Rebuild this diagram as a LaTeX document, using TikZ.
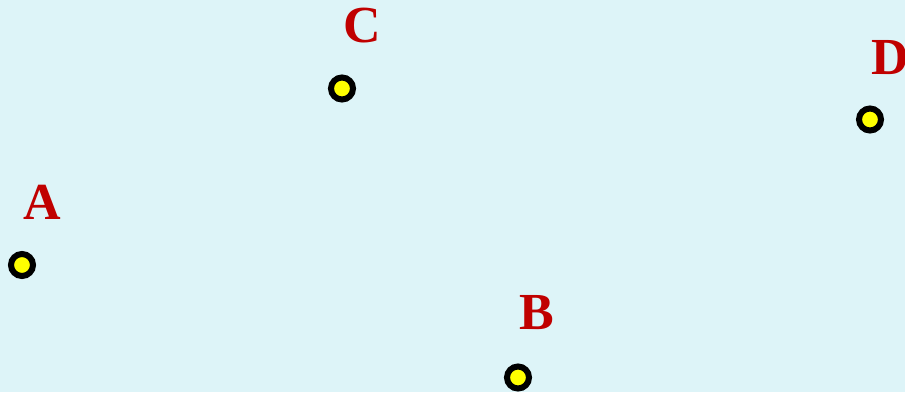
\documentclass[tikz,border=0pt]{standalone}
\usepackage{fontspec}
\setmainfont{Liberation Serif}
\definecolor{bgcyan}{HTML}{DDF4F8}
\definecolor{lblred}{HTML}{C00000}
\definecolor{dotyellow}{HTML}{FFFF00}
\tikzset{
  pt/.style={circle, draw=black, fill=dotyellow, line width=6pt, minimum size=22pt, inner sep=0pt},
  lbl/.style={text=lblred, font=\fontsize{52}{62}\selectfont\bfseries, inner sep=0pt}
}
\begin{document}
\begin{tikzpicture}[x=1pt,y=1pt]
\fill[bgcyan] (0,0) rectangle (905,392);
\useasboundingbox (0,0) rectangle (905,392);
\node[pt] (A) at (22,392-265) {};
\node[pt] (C) at (342,392-88.5) {};
\node[pt] (D) at (870,392-119.5) {};
\node[pt] (B) at (518,392-377.5) {};
\node[lbl] (lA) at (42,392-202) {A};
\node[lbl] (lC) at (362,392-26) {C};
\node[lbl] (lB) at (537,392-313) {B};
\node[lbl,anchor=west] (lD) at (871,392-57.5) {D};
\end{tikzpicture}
\end{document}
